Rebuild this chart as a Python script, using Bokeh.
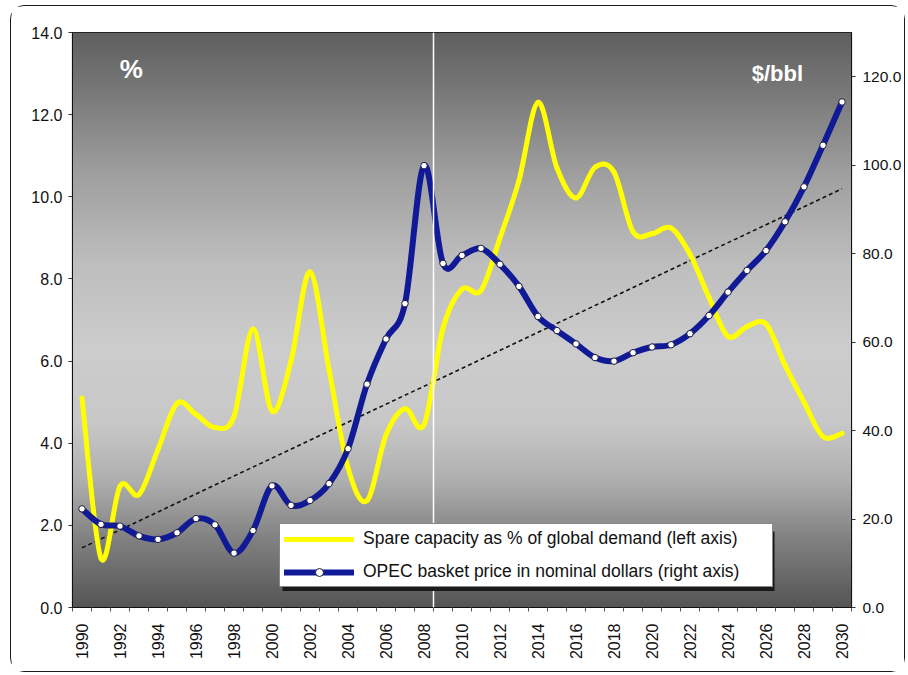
import numpy as np
from bokeh.plotting import figure
from bokeh.models import (Range1d, LinearAxis, FixedTicker, NumeralTickFormatter,
                          Legend, LegendItem, Span, Label, BoxAnnotation, ColumnDataSource)
from bokeh.embed import file_html
from bokeh.resources import INLINE

# ---- data -------------------------------------------------------------
years = list(range(1990, 2031))

# OPEC spare capacity as % of global demand (left axis)
spare_capacity_pct = [5.10, 1.20, 2.95, 2.75, 3.85, 4.97, 4.70, 4.38, 4.65, 6.78,
                      4.78, 6.00, 8.17, 5.80, 3.40, 2.60, 4.20, 4.84, 4.45, 6.80,
                      7.75, 7.72, 9.00, 10.40, 12.30, 10.70, 9.97, 10.72, 10.60, 9.15,
                      9.10, 9.24, 8.60, 7.55, 6.60, 6.84, 6.90, 5.90, 5.00, 4.16,
                      4.24]

# OPEC basket price, nominal $/bbl (right axis)
opec_price = [22.3, 18.8, 18.4, 16.2, 15.4, 16.9, 20.1, 18.7, 12.3, 17.4,
              27.5, 23.1, 24.2, 28.0, 35.9, 50.5, 60.7, 68.7, 99.9, 77.8,
              79.6, 81.2, 77.6, 72.6, 65.8, 62.6, 59.6, 56.5, 55.7, 57.6,
              58.9, 59.4, 61.9, 66.0, 71.3, 76.2, 80.7, 87.2, 95.1, 104.5,
              114.3]

label_years = years[::2]
pct_ticks = [0, 2, 4, 6, 8, 10, 12, 14]
price_ticks = [0, 20, 40, 60, 80, 100, 120]

FONT = "Liberation Sans"
YELLOW = "#ffff00"
NAVY = "#111a96"


def smooth_segments(xs, ys):
    """Cubic Bezier pieces through every point (Catmull-Rom style smoothing)."""
    x = np.asarray(xs, float)
    y = np.asarray(ys, float)
    px = np.concatenate([[x[0]], x, [x[-1]]])
    py = np.concatenate([[y[0]], y, [y[-1]]])
    n = len(x)
    return dict(
        x0=x[:-1], y0=y[:-1], x1=x[1:], y1=y[1:],
        cx0=x[:-1] + (px[2:n + 1] - px[:n - 1]) / 6.0,
        cy0=y[:-1] + (py[2:n + 1] - py[:n - 1]) / 6.0,
        cx1=x[1:] - (px[3:n + 2] - px[1:n]) / 6.0,
        cy1=y[1:] - (py[3:n + 2] - py[1:n]) / 6.0,
    )


p = figure(width=895, height=667, output_backend="svg", toolbar_location=None,
           x_range=Range1d(1989.5, 2030.5), y_range=Range1d(0, 14),
           min_border_left=61, min_border_right=55, min_border_top=26,
           min_border_bottom=66)
p.extra_y_ranges = {"price": Range1d(0, 130)}
p.margin = (5, 0, 0, 10)
p.styles = {"border": "1.5px solid #1a1a1a", "border-radius": "14px"}
p.background_fill_color = "#bdbdbd"
p.border_fill_color = "white"
p.outline_line_color = "#111111"
p.outline_line_width = 1.2
p.xgrid.visible = False
p.ygrid.visible = False

# vertical grey gradient filling the plot area
pos = [0.0, 0.10, 0.25, 0.40, 0.55, 0.68, 0.78, 0.88, 1.0]
lvl = [95, 120, 160, 190, 205, 200, 175, 130, 85]
nrows = 400
t_top = 1.0 - (np.arange(nrows) + 0.5) / nrows
g = np.interp(t_top, pos, lvl).astype(np.uint8)
img = np.empty((nrows, 1), dtype=np.uint32)
view = img.view(dtype=np.uint8).reshape((nrows, 1, 4))
view[:, 0, 0] = g
view[:, 0, 1] = g
view[:, 0, 2] = g
view[:, 0, 3] = 255
p.image_rgba(image=[img], x=1989.5, y=0, dw=41, dh=14)

# white divider between history and projection
p.add_layout(Span(location=2008.5, dimension="height", line_color="white",
                  line_width=1.5))

# linear trend of the price series
slope, icpt = np.polyfit(years, opec_price, 1)
trend_x = [years[0], years[-1]]
trend_y = [slope * trend_x[0] + icpt, slope * trend_x[1] + icpt]
p.line(trend_x, trend_y, y_range_name="price", line_color="#111111",
       line_width=1.6, line_dash="4 3")

spare_src = ColumnDataSource(smooth_segments(years, spare_capacity_pct))
price_src = ColumnDataSource(smooth_segments(years, opec_price))

r_spare = p.bezier(x0="x0", y0="y0", x1="x1", y1="y1", cx0="cx0", cy0="cy0",
                   cx1="cx1", cy1="cy1", source=spare_src, line_color=YELLOW,
                   line_width=5, line_cap="round", line_join="round")
r_price = p.bezier(x0="x0", y0="y0", x1="x1", y1="y1", cx0="cx0", cy0="cy0",
                   cx1="cx1", cy1="cy1", source=price_src, y_range_name="price",
                   line_color=NAVY, line_width=6, line_cap="round", line_join="round")
r_pts = p.scatter(years, opec_price, y_range_name="price", size=6.5,
                  fill_color="white", line_color="#1c1c3c", line_width=1)

# axes
p.xaxis.ticker = FixedTicker(ticks=label_years,
                             minor_ticks=[y - 0.5 for y in years] + [years[-1] + 0.5])
p.xaxis.major_label_orientation = np.pi / 2
p.xaxis.major_tick_line_color = None
p.xaxis.minor_tick_in = 0
p.xaxis.minor_tick_out = 4
p.xaxis.major_label_standoff = 10

p.yaxis.ticker = FixedTicker(ticks=pct_ticks)
p.yaxis.formatter = NumeralTickFormatter(format="0.0")
p.yaxis.minor_tick_line_color = None
p.yaxis.major_tick_in = 0
p.yaxis.major_tick_out = 4
p.yaxis.major_label_standoff = 6

right = LinearAxis(y_range_name="price", ticker=FixedTicker(ticks=price_ticks),
                   formatter=NumeralTickFormatter(format="0.0"))
right.minor_tick_line_color = None
right.major_tick_in = 0
right.major_tick_out = 4
right.major_label_standoff = 7
p.add_layout(right, "right")

for ax in (p.xaxis[0], p.yaxis[0], right):
    ax.major_label_text_font = FONT
    ax.major_label_text_font_size = "16px"
    ax.major_label_text_color = "#111111"
    ax.axis_line_color = "#111111"
    ax.major_tick_line_color = None if ax is p.xaxis[0] else "#333333"
    ax.minor_tick_line_color = "#555555" if ax is p.xaxis[0] else None
right.major_label_text_font_size = "15.5px"

# unit captions
p.add_layout(Label(x=1992.6, y=13.1, text="%", text_color="white",
                   text_font=FONT, text_font_style="bold", text_font_size="26px",
                   text_align="center", text_baseline="middle"))
p.add_layout(Label(x=2026.6, y=13.0, text="$/bbl", text_color="white",
                   text_font=FONT, text_font_style="bold", text_font_size="22px",
                   text_align="center", text_baseline="middle"))

# legend with a drop shadow
p.add_layout(BoxAnnotation(left=2000.55, right=2026.45, bottom=0.40, top=1.85,
                           fill_color="#1a1a1a", fill_alpha=1.0, line_color=None))
legend = Legend(items=[
    LegendItem(label="Spare capacity as % of global demand (left axis)",
               renderers=[r_spare]),
    LegendItem(label="OPEC basket price in nominal dollars (right axis)",
               renderers=[r_price, r_pts]),
], location=(207, 20))
legend.label_text_font = FONT
legend.label_text_font_size = "17.5px"
legend.label_text_color = "#111111"
legend.glyph_width = 70
legend.glyph_height = 20
legend.label_height = 20
legend.label_width = 405
legend.label_standoff = 9
legend.spacing = 12
legend.padding = 4
legend.margin = 0
legend.border_line_color = "#111111"
legend.border_line_width = 1
legend.background_fill_color = "white"
legend.background_fill_alpha = 1.0
p.add_layout(legend, "center")

open("out.html", "w").write(file_html(p, INLINE))
